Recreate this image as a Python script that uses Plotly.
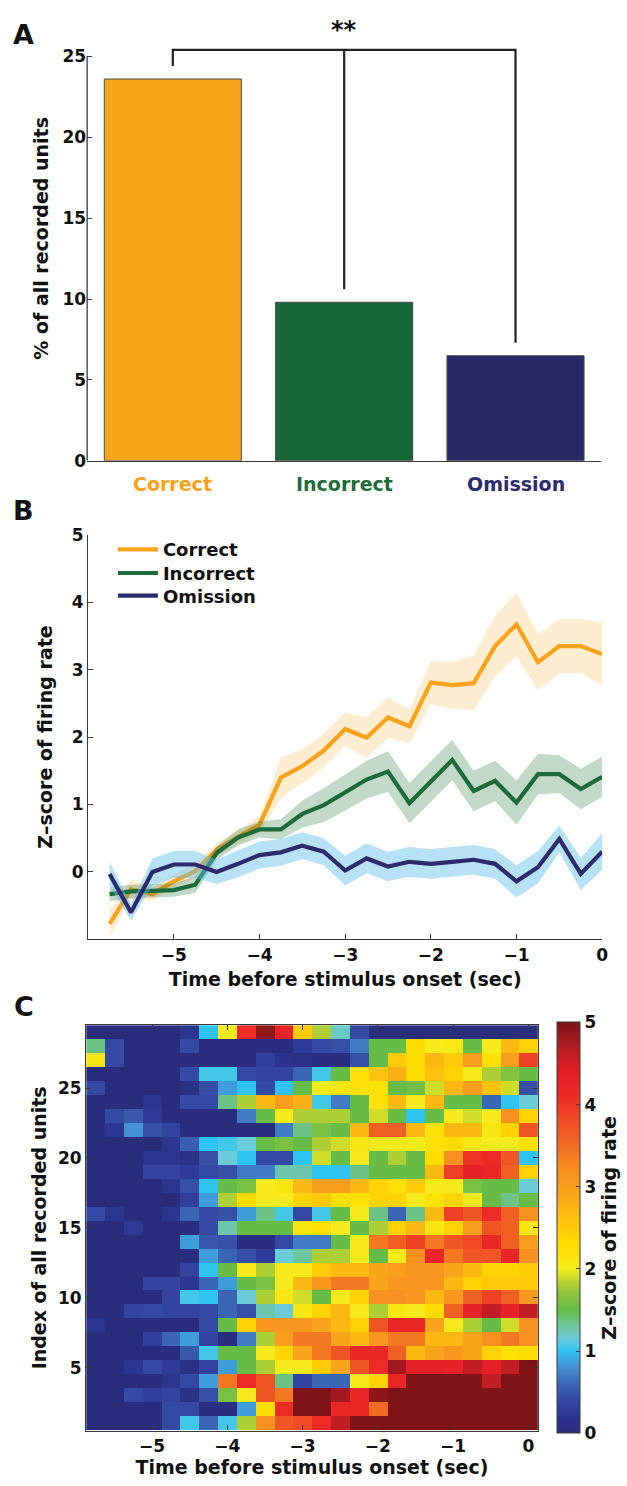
import plotly.graph_objects as go

W, H = 627, 1486

# ---------------- Panel A: share of units per trial outcome ----------------
categories = ["Correct", "Incorrect", "Omission"]
pct_units = [23.6, 9.8, 6.5]
bar_colors = ["#F8A51B", "#176637", "#2A2966"]
label_colors = ["#F7A21B", "#1D6B3A", "#2D2B6E"]
bracket_level = 25.4
bracket_gap = 0.8
sig_label = "**"

# ---------------- Panel B: population z-score before stimulus ----------------
time_s = [-5.75, -5.5, -5.25, -5.0, -4.75, -4.5, -4.25, -4.0, -3.75, -3.5, -3.25, -3.0,
          -2.75, -2.5, -2.25, -2.0, -1.75, -1.5, -1.25, -1.0, -0.75, -0.5, -0.25, 0.0]
correct_mean = [-0.77, -0.26, -0.33, -0.14, 0.01, 0.33, 0.52, 0.70, 1.40, 1.57, 1.80, 2.12,
                1.99, 2.29, 2.16, 2.81, 2.77, 2.80, 3.35, 3.67, 3.11, 3.35, 3.35, 3.23]
correct_sem = [0.20, 0.15, 0.10, 0.10, 0.10, 0.10, 0.10, 0.12, 0.30, 0.25, 0.25, 0.25,
               0.30, 0.30, 0.25, 0.32, 0.35, 0.40, 0.45, 0.47, 0.42, 0.40, 0.40, 0.47]
incorrect_mean = [-0.33, -0.29, -0.28, -0.27, -0.19, 0.28, 0.51, 0.63, 0.63, 0.86, 0.99, 1.18,
                  1.37, 1.49, 1.02, 1.34, 1.66, 1.20, 1.35, 1.03, 1.45, 1.45, 1.23, 1.41]
incorrect_sem = [0.10, 0.10, 0.10, 0.10, 0.12, 0.10, 0.12, 0.12, 0.15, 0.20, 0.25, 0.27,
                 0.28, 0.30, 0.30, 0.30, 0.30, 0.30, 0.30, 0.33, 0.30, 0.28, 0.30, 0.30]
omission_mean = [-0.03, -0.60, 0.00, 0.11, 0.11, 0.00, 0.12, 0.25, 0.29, 0.39, 0.30, 0.02,
                 0.20, 0.08, 0.15, 0.12, 0.15, 0.18, 0.12, -0.14, 0.07, 0.49, -0.03, 0.30]
omission_sem = [0.18, 0.12, 0.20, 0.20, 0.20, 0.18, 0.20, 0.20, 0.20, 0.20, 0.20, 0.22,
                0.22, 0.22, 0.22, 0.22, 0.22, 0.22, 0.22, 0.24, 0.24, 0.20, 0.24, 0.27]
line_colors = ["#F9A21B", "#1B6B3B", "#2E2A6E"]
band_colors = ["rgba(248,165,27,0.20)", "rgba(30,110,55,0.27)", "rgba(95,190,235,0.45)"]

# ---------------- Panel C: single-unit z-scores (top row = unit 29) ----------------
unit_index = [29, 28, 27, 26, 25, 24, 23, 22, 21, 20, 19, 18, 17, 16, 15,
              14, 13, 12, 11, 10, 9, 8, 7, 6, 5, 4, 3, 2, 1]
unit_z = [
    [0, 0, 0, 0, 0, 0.2, 1.0, 2.0, 4.1, 4.9, 4.3, 2.5, 1.8, 1.2, 0.4, 0, 0, 0, 0, 0, 0, 0, 0, 0],
    [1.35, 0.4, 0, 0, 0, 0.4, 0, 0, 0, 0, 0, 0.25, 0.4, 0.45, 0.7, 1.5, 1.5, 2.3, 2.0, 2.05, 1.5, 2.0, 2.7, 2.4],
    [2.1, 0.4, 0, 0, 0, 0, 0, 0, 0, 0.3, 0.15, 0.1, 0.05, 0.05, 0.45, 1.5, 2.5, 2.3, 2.7, 2.5, 3.0, 2.2, 3.0, 3.9],
    [0, 0, 0, 0, 0, 0.4, 1.05, 1.05, 0.4, 0.35, 0.35, 0.6, 1.05, 1.5, 2.2, 2.6, 2.8, 2.3, 2.6, 2.4, 2.0, 1.8, 1.65, 1.5],
    [0.4, 0, 0, 0, 0, 0.1, 0.45, 0.85, 1.0, 0.4, 1.0, 1.5, 2.0, 2.1, 2.2, 2.2, 1.5, 1.55, 1.9, 2.7, 3.0, 2.6, 1.9, 0.45],
    [0, 0, 0, 0.2, 0, 0.4, 0.4, 1.35, 1.8, 2.7, 3.0, 2.8, 1.05, 0.7, 1.5, 2.2, 2.7, 2.0, 2.7, 1.5, 1.5, 0.6, 1.0, 1.15],
    [0, 0.4, 0.5, 0.25, 0, 0, 0, 0, 0.7, 1.5, 2.0, 1.8, 1.8, 1.8, 1.5, 1.9, 1.5, 1.0, 1.5, 2.0, 1.9, 2.0, 3.2, 2.4],
    [0, 0.2, 0.8, 0.45, 0.35, 0, 0, 0, 0, 0, 0.7, 1.35, 1.6, 1.5, 2.7, 3.6, 3.6, 2.7, 2.2, 2.7, 2.7, 2.1, 2.4, 3.7],
    [0, 0, 0, 0, 0.2, 0.55, 1.0, 1.05, 1.15, 1.5, 1.6, 1.5, 1.8, 1.9, 2.1, 2.0, 2.0, 2.0, 2.2, 2.3, 2.1, 2.0, 2.0, 2.2],
    [0, 0, 0, 0.2, 0.2, 0.1, 0.45, 1.15, 1.0, 0.4, 0.4, 1.0, 1.9, 1.5, 2.0, 1.5, 1.8, 1.5, 2.3, 3.2, 4.0, 4.1, 3.7, 1.0],
    [0, 0, 0, 0.35, 0.35, 0.25, 0.4, 0.45, 0.7, 0.7, 1.25, 1.25, 1.0, 1.0, 1.35, 1.5, 1.5, 1.5, 2.7, 3.9, 4.3, 4.2, 3.6, 2.4],
    [0, 0, 0, 0, 0.2, 0.45, 1.0, 1.5, 1.6, 2.0, 2.1, 2.7, 3.0, 3.0, 2.7, 2.4, 2.2, 2.5, 2.0, 2.0, 1.6, 1.5, 1.5, 1.15],
    [0, 0, 0, 0, 0, 0.3, 0.85, 1.8, 2.3, 2.0, 2.0, 2.4, 2.5, 2.2, 2.2, 2.4, 2.4, 2.0, 2.2, 2.4, 2.0, 1.5, 1.35, 1.5],
    [0.4, 0.2, 0, 0, 0.2, 0.6, 0.4, 0.45, 0.85, 1.35, 1.05, 0.4, 1.05, 1.5, 2.0, 1.35, 0.6, 1.35, 2.7, 3.9, 3.7, 4.1, 3.6, 3.2],
    [0, 0, 0.25, 0, 0, 0.05, 0.4, 1.25, 1.5, 1.5, 1.5, 2.1, 2.2, 2.0, 1.5, 1.8, 2.4, 2.7, 2.1, 2.4, 3.0, 3.7, 3.6, 2.1],
    [0, 0, 0, 0, 0, 0.85, 0.5, 0.45, 0.05, 0.05, 0.4, 0.7, 0.7, 1.5, 2.0, 3.4, 3.6, 3.9, 3.4, 3.7, 3.8, 4.2, 3.6, 3.0],
    [0, 0, 0, 0, 0, 0.05, 0.85, 0.6, 0.45, 0.25, 1.15, 1.3, 1.8, 1.8, 2.0, 1.5, 2.0, 3.2, 4.2, 3.4, 3.7, 3.7, 4.2, 3.2],
    [0, 0, 0, 0, 0, 0.35, 1.0, 1.5, 2.0, 1.8, 2.0, 2.0, 2.5, 2.7, 2.7, 2.9, 3.0, 3.1, 3.1, 2.9, 2.7, 2.4, 2.4, 2.5],
    [0, 0, 0, 0.35, 0.35, 0.2, 0.6, 0.85, 1.5, 1.6, 2.0, 2.7, 3.1, 3.4, 3.4, 2.9, 3.1, 3.1, 3.1, 2.7, 2.4, 2.5, 2.5, 2.5],
    [0, 0, 0, 0, 0.35, 1.05, 1.0, 0.6, 1.15, 1.8, 2.1, 1.9, 1.5, 2.0, 2.4, 3.2, 3.2, 3.1, 2.7, 3.1, 3.6, 3.9, 3.6, 3.1],
    [0, 0, 0.35, 0.4, 0.35, 0.35, 0.4, 0.6, 0.45, 1.25, 1.15, 2.1, 2.4, 2.7, 2.0, 1.8, 2.1, 2.0, 2.3, 3.6, 4.3, 4.6, 4.3, 4.6],
    [0.2, 0, 0, 0, 0, 0, 0.4, 1.5, 2.4, 3.1, 3.1, 3.1, 2.9, 2.7, 2.4, 3.7, 4.2, 4.2, 2.9, 2.0, 1.8, 1.5, 1.9, 3.2],
    [0, 0, 0, 0.3, 0.6, 0.85, 0.35, 0.05, 0.7, 1.8, 3.0, 3.4, 3.4, 2.9, 2.7, 3.1, 3.4, 3.4, 2.7, 2.7, 2.9, 3.2, 3.4, 3.2],
    [0, 0, 0, 0, 0.05, 0.5, 1.05, 1.5, 1.5, 2.0, 2.4, 2.9, 3.4, 3.7, 4.2, 4.2, 3.6, 2.7, 2.9, 3.1, 2.9, 2.4, 2.2, 2.3],
    [0, 0, 0.2, 0.4, 0.25, 0.1, 0.35, 0.85, 1.5, 1.8, 2.0, 2.0, 2.5, 2.9, 3.7, 4.1, 4.8, 4.35, 4.35, 4.3, 4.6, 4.35, 4.6, 5.0],
    [0, 0, 0, 0, 0.2, 0.4, 0.85, 3.4, 4.1, 3.7, 1.35, 0.35, 0.6, 0.6, 2.0, 2.4, 4.2, 5, 5, 5, 5, 4.6, 5, 5],
    [0, 0, 0.4, 0.3, 0.35, 0.1, 0.45, 1.6, 2.0, 3.7, 3.4, 5, 5, 4.8, 4.2, 4.9, 5, 5, 5, 5, 5, 5, 5, 5],
    [0, 0, 0, 0, 0.4, 0.4, 0.05, 0.05, 0.85, 2.3, 4.1, 5, 5, 4.2, 4.2, 3.5, 5, 5, 5, 5, 5, 5, 5, 5],
    [0, 0, 0, 0, 0.4, 1.05, 0.6, 1.05, 1.8, 3.2, 3.7, 3.8, 4.1, 4.6, 5, 5, 5, 5, 5, 5, 5, 5, 5, 5],
]
z_colorscale = [
    [0.00, "#2A2C7C"], [0.04, "#2B3592"], [0.08, "#3449A4"], [0.12, "#3B66B5"],
    [0.16, "#4690D4"], [0.20, "#2FC4F0"], [0.23, "#6ACCD8"], [0.26, "#6EC49A"],
    [0.30, "#66BC47"], [0.34, "#8DC33E"], [0.37, "#BED431"], [0.40, "#F5EB1C"],
    [0.46, "#FFDC00"], [0.52, "#FFC20E"], [0.58, "#F9A51B"], [0.64, "#F7901E"],
    [0.70, "#F26B22"], [0.76, "#EF4B24"], [0.82, "#EE2A26"], [0.88, "#E21F27"],
    [0.94, "#B21C22"], [1.00, "#7E1416"],
]

# ---------------- helpers: pixel -> paper fractions ----------------
def px_x(p):
    return p / W


def px_y(p):
    return 1 - p / H


FONT = "DejaVu Sans"
INK = "#111111"
AXIS = "#3a3a3a"
tick_font = dict(family=FONT, size=17, color=INK, weight="bold")
title_font = dict(family=FONT, size=19, color=INK, weight="bold")
legend_font = dict(family=FONT, size=18, color=INK, weight="bold")

fig = go.Figure()

# Panel A bars
fig.add_trace(go.Bar(
    x=[1, 2, 3], y=pct_units, width=0.8,
    marker=dict(color=bar_colors, line=dict(color="#4a4a4a", width=1)),
    showlegend=False, xaxis="x", yaxis="y", hoverinfo="skip",
))

# Panel B: SEM band then mean line for each outcome; one legend box per outcome
series = [
    ("Correct", correct_mean, correct_sem),
    ("Incorrect", incorrect_mean, incorrect_sem),
    ("Omission", omission_mean, omission_sem),
]
legend_ids = ["legend", "legend2", "legend3"]
for (name, mean, sem), lc, bc, lg in zip(series, line_colors, band_colors, legend_ids):
    upper = [m + s for m, s in zip(mean, sem)]
    lower = [m - s for m, s in zip(mean, sem)]
    fig.add_trace(go.Scatter(
        x=time_s + time_s[::-1], y=upper + lower[::-1],
        fill="toself", fillcolor=bc, line=dict(width=0), mode="lines",
        showlegend=False, hoverinfo="skip", xaxis="x2", yaxis="y2",
    ))
    fig.add_trace(go.Scatter(
        x=time_s, y=mean, mode="lines", name=name, legend=lg,
        line=dict(color=lc, width=4.2), xaxis="x2", yaxis="y2",
    ))

# Panel C heatmap
hm_top, hm_bot = 1029, 1440
fig.add_trace(go.Heatmap(
    x=time_s, y=unit_index, z=unit_z, zmin=0, zmax=5,
    colorscale=z_colorscale, xaxis="x3", yaxis="y3",
    colorbar=dict(
        x=px_x(562), xanchor="left", xref="paper", xpad=0,
        y=px_y((hm_top + hm_bot) / 2), yanchor="middle", ypad=0,
        len=hm_bot - hm_top, lenmode="pixels", thickness=23,
        outlinewidth=1, outlinecolor=AXIS,
        ticks="inside", ticklen=4, tickcolor=AXIS,
        tickvals=[0, 1, 2, 3, 4, 5], tickfont=tick_font,
        title=dict(text="Z\u2013score of firing rate", side="right", font=title_font),
    ),
))

shapes = []
# Panel A left axis line (0 to 25 only)
shapes.append(dict(type="line", xref="paper", yref="y", x0=px_x(88), x1=px_x(88),
                   y0=0, y1=25, line=dict(color=AXIS, width=1.3)))
# significance bracket
shapes.append(dict(
    type="path", xref="x", yref="y",
    path=(f"M 1,{pct_units[0] + bracket_gap} L 1,{bracket_level} "
          f"L 3,{bracket_level} L 3,{pct_units[2] + bracket_gap}"),
    line=dict(color="#222222", width=2.2),
))
shapes.append(dict(type="line", xref="x", yref="y", x0=2, x1=2,
                   y0=bracket_level, y1=pct_units[1] + bracket_gap,
                   line=dict(color="#222222", width=2.2)))

annotations = []
for letter, py in (("A", 25), ("B", 507), ("C", 1010)):
    annotations.append(dict(text=letter, xref="paper", yref="paper", x=px_x(24), y=px_y(py),
                            showarrow=False, xanchor="center", yanchor="middle",
                            font=dict(family=FONT, size=27, color=INK, weight="bold")))
annotations.append(dict(text=sig_label, xref="x", yref="y", x=2, y=bracket_level + 0.25,
                        showarrow=False, yanchor="bottom",
                        font=dict(family=FONT, size=24, color=INK, weight="bold")))
for i, (cat, col) in enumerate(zip(categories, label_colors)):
    annotations.append(dict(text=cat, xref="x", yref="paper", x=i + 1, y=px_y(480),
                            showarrow=False, yanchor="middle",
                            font=dict(family=FONT, size=19, color=col, weight="bold")))

axis_common = dict(showgrid=False, zeroline=False, linecolor=AXIS, linewidth=1.3,
                   tickcolor=AXIS, tickfont=tick_font, ticks="inside", ticklen=5)


def legend_box(py):
    return dict(x=px_x(114), y=px_y(py), xanchor="left", yanchor="middle",
                bgcolor="rgba(0,0,0,0)", itemwidth=40, font=legend_font)


fig.update_layout(
    width=W, height=H, margin=dict(l=0, r=0, t=0, b=0),
    paper_bgcolor="white", plot_bgcolor="white",
    font=dict(family=FONT, color=INK),
    shapes=shapes, annotations=annotations,
    showlegend=True,
    legend=legend_box(547), legend2=legend_box(571), legend3=legend_box(594),
    # Panel A
    xaxis=dict(domain=[px_x(88), px_x(607)], range=[0.5, 3.5], anchor="y",
               showline=True, ticks="", showticklabels=False,
               showgrid=False, zeroline=False, linecolor=AXIS, linewidth=1.3),
    yaxis=dict(domain=[px_y(457), px_y(6)], range=[0, 27.5], anchor="x",
               showline=False, tickvals=[0, 5, 10, 15, 20, 25],
               title=dict(text="% of all recorded units", font=title_font, standoff=8),
               **axis_common),
    # Panel B
    xaxis2=dict(domain=[px_x(89), px_x(608)], range=[-6, 0], anchor="y2",
                showline=True, tickvals=[-5, -4, -3, -2, -1, 0],
                title=dict(text="Time before stimulus onset (sec)", font=title_font, standoff=8),
                **axis_common),
    yaxis2=dict(domain=[px_y(942), px_y(532)], range=[-1, 5], anchor="x2",
                showline=True, tickvals=[0, 1, 2, 3, 4, 5],
                title=dict(text="Z\u2013score of firing rate", font=title_font, standoff=14),
                **axis_common),
    # Panel C
    xaxis3=dict(domain=[px_x(87), px_x(543)], range=[-5.875, 0.125], anchor="y3",
                showline=True, mirror="ticks", tickvals=[-5, -4, -3, -2, -1, 0],
                title=dict(text="Time before stimulus onset (sec)", font=title_font, standoff=0),
                **axis_common),
    yaxis3=dict(domain=[px_y(hm_bot), px_y(hm_top)], range=[0.5, 29.5], anchor="x3",
                showline=True, mirror="ticks", tickvals=[5, 10, 15, 20, 25],
                title=dict(text="Index of all recorded units", font=title_font, standoff=6),
                **axis_common),
)

fig.write_html("out.html")
